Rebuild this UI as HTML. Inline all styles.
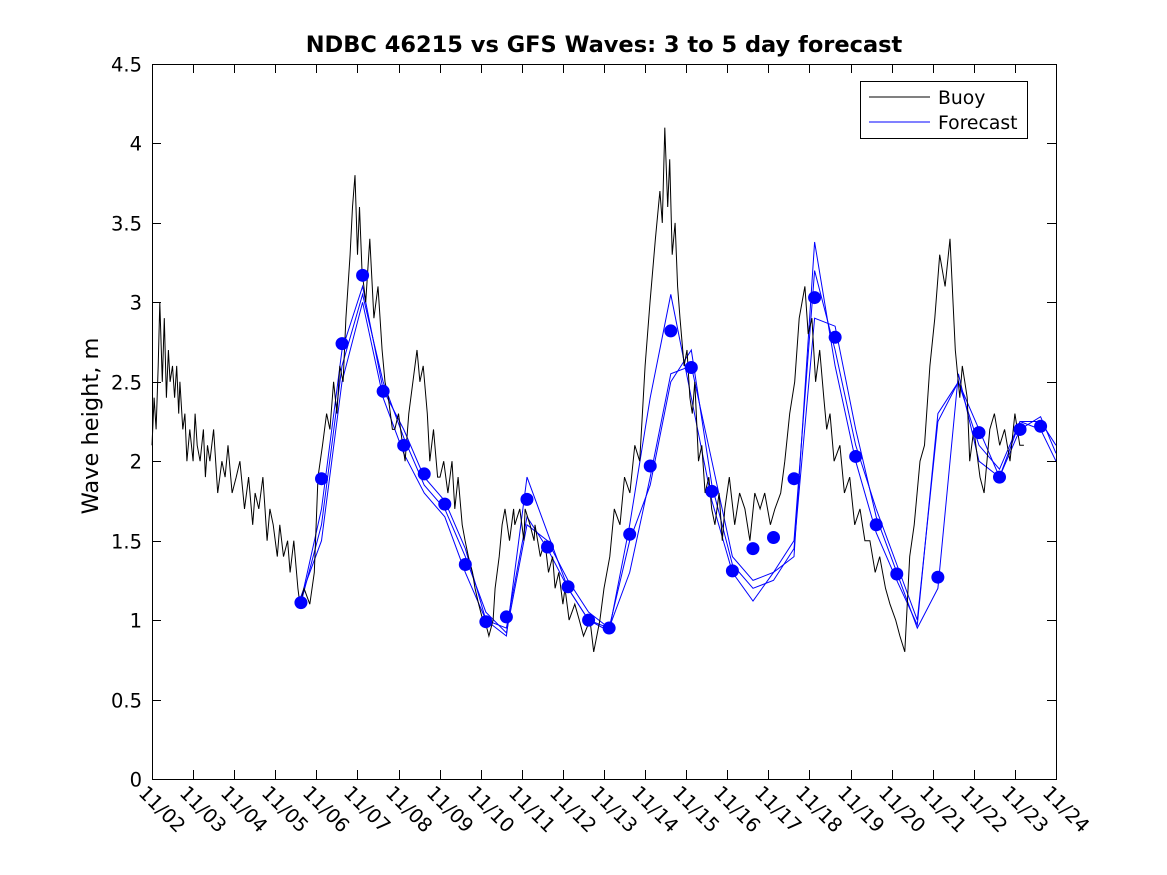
<!DOCTYPE html>
<html><head><meta charset="utf-8">
<style>
html,body{margin:0;padding:0;background:#fff;}
svg{display:block;font-family:"DejaVu Sans","Liberation Sans",sans-serif;}
</style></head>
<body>
<svg id="chart" width="1167" height="875" viewBox="0 0 1167 875">
<rect x="0" y="0" width="1167" height="875" fill="#fff"/>
<text x="604" y="52" text-anchor="middle" font-size="22.5" font-weight="bold">NDBC 46215 vs GFS Waves: 3 to 5 day forecast</text>
<text transform="translate(98,426) rotate(-90)" text-anchor="middle" font-size="22.5">Wave height, m</text>
<g id="plot"></g>
<g id="axes"></g>
<g>
<rect x="860.5" y="81.5" width="167" height="57" fill="#fff" stroke="#000" stroke-width="1"/>
<line x1="869" y1="97" x2="930" y2="97" stroke="#000"/>
<text x="938" y="104" font-size="18.8">Buoy</text>
<line x1="869" y1="122" x2="930" y2="122" stroke="#00f"/>
<text x="938" y="129" font-size="18.8">Forecast</text>
</g>
</svg>
<script>
const xTickLabels=["11/02","11/03","11/04","11/05","11/06","11/07","11/08","11/09","11/10","11/11","11/12","11/13","11/14","11/15","11/16","11/17","11/18","11/19","11/20","11/21","11/22","11/23","11/24"];
const yTicks=[0,0.5,1,1.5,2,2.5,3,3.5,4,4.5];
const buoyDays=[0,0.05,0.1,0.15,0.19,0.25,0.3,0.35,0.4,0.44,0.5,0.55,0.6,0.65,0.68,0.75,0.8,0.85,0.92,1.0,1.05,1.1,1.17,1.25,1.3,1.35,1.41,1.5,1.6,1.7,1.78,1.85,1.95,2.05,2.14,2.25,2.35,2.45,2.51,2.6,2.7,2.8,2.87,2.95,3.05,3.11,3.2,3.3,3.36,3.45,3.55,3.6,3.7,3.84,3.95,4.04,4.15,4.25,4.33,4.42,4.5,4.57,4.65,4.72,4.82,4.88,4.94,5.0,5.05,5.11,5.2,5.3,5.4,5.5,5.6,5.67,5.75,5.85,5.91,6.0,6.1,6.16,6.25,6.35,6.45,6.52,6.6,6.7,6.76,6.85,6.95,7.01,7.1,7.2,7.3,7.37,7.45,7.55,7.62,7.7,7.8,7.86,7.95,8.05,8.1,8.2,8.3,8.35,8.45,8.52,8.59,8.7,8.8,8.83,8.95,9.05,9.08,9.2,9.3,9.32,9.45,9.56,9.65,9.75,9.81,9.9,10.0,10.05,10.15,10.29,10.4,10.5,10.66,10.75,10.9,11.0,11.14,11.25,11.39,11.5,11.63,11.75,11.87,12.0,12.12,12.25,12.36,12.42,12.48,12.55,12.6,12.66,12.73,12.79,12.85,12.95,13.02,13.09,13.15,13.21,13.3,13.38,13.46,13.55,13.62,13.7,13.8,13.88,13.94,14.05,14.18,14.3,14.43,14.55,14.67,14.8,14.91,15.05,15.16,15.3,15.4,15.52,15.64,15.75,15.89,15.97,16.06,16.15,16.25,16.35,16.42,16.5,16.6,16.74,16.85,16.98,17.1,17.23,17.35,17.47,17.6,17.71,17.85,17.96,18.1,18.2,18.32,18.44,18.55,18.69,18.8,18.93,19.05,19.17,19.3,19.42,19.55,19.66,19.72,19.78,19.84,19.9,20.0,20.15,20.25,20.39,20.5,20.63,20.75,20.88,21.0,21.12,21.22,21.3,21.36,21.5,21.61,21.75,21.85,22.0];
const buoyVals=[2.1,2.4,2.2,2.6,3.0,2.5,2.9,2.4,2.7,2.5,2.6,2.4,2.6,2.3,2.5,2.2,2.3,2.0,2.2,2.0,2.3,2.1,2.0,2.2,1.9,2.1,2.0,2.2,1.8,2.0,1.9,2.1,1.8,1.9,2.0,1.7,1.9,1.6,1.8,1.7,1.9,1.5,1.7,1.6,1.4,1.6,1.4,1.5,1.3,1.5,1.2,1.1,1.2,1.1,1.3,1.9,2.1,2.3,2.2,2.5,2.3,2.6,2.5,2.9,3.3,3.6,3.8,3.3,3.6,3.2,3.0,3.4,2.9,3.1,2.7,2.5,2.4,2.2,2.2,2.3,2.1,2.0,2.3,2.5,2.7,2.5,2.6,2.3,2.0,2.2,1.9,1.9,2.0,1.8,2.0,1.7,1.9,1.6,1.5,1.4,1.3,1.2,1.1,1.0,1.0,0.9,1.0,1.2,1.4,1.6,1.7,1.5,1.7,1.6,1.7,1.5,1.7,1.6,1.5,1.6,1.4,1.5,1.3,1.4,1.2,1.3,1.1,1.2,1.0,1.1,1.0,0.9,1.0,0.8,1.0,1.2,1.4,1.7,1.6,1.9,1.8,2.1,2.0,2.6,3.0,3.4,3.7,3.5,4.1,3.6,3.9,3.3,3.5,3.1,2.9,2.6,2.7,2.4,2.3,2.5,2.0,2.1,1.8,1.9,1.7,1.6,1.8,1.5,1.7,1.9,1.6,1.8,1.7,1.5,1.8,1.7,1.8,1.6,1.7,1.8,2.0,2.3,2.5,2.9,3.1,2.8,2.9,2.5,2.7,2.4,2.2,2.3,2.0,2.1,1.8,1.9,1.6,1.7,1.5,1.5,1.3,1.4,1.2,1.1,1.0,0.9,0.8,1.4,1.6,2.0,2.1,2.6,2.9,3.3,3.1,3.4,2.7,2.4,2.6,2.5,2.4,2.0,2.2,1.9,1.8,2.2,2.3,2.1,2.2,2.0,2.3,2.1,2.1];
const fcDays=[3.625,4.125,4.625,5.125,5.625,6.125,6.625,7.125,7.625,8.125,8.625,9.125,9.625,10.125,10.625,11.125,11.625,12.125,12.625,13.125,13.625,14.125,14.625,15.125,15.625,16.125,16.625,17.125,17.625,18.125,18.625,19.125,19.625,20.125,20.625,21.125,21.625,22.0];
const fcDots=[1.11,1.89,2.74,3.17,2.44,2.10,1.92,1.73,1.35,0.99,1.02,1.76,1.46,1.21,1.00,0.95,1.54,1.97,2.82,2.59,1.81,1.31,1.45,1.52,1.89,3.03,2.78,2.03,1.60,1.29,null,1.27,null,2.18,1.90,2.20,2.22,null];
const fcRunA=[1.11,1.60,2.60,3.05,2.50,2.15,1.85,1.70,1.40,1.05,0.92,1.60,1.50,1.25,1.05,0.95,1.30,1.90,2.55,2.60,2.00,1.40,1.25,1.30,1.50,3.20,2.70,2.10,1.70,1.35,1.00,2.25,2.50,2.20,1.90,2.25,2.25,2.10];
const fcRunB=[1.15,1.50,2.50,3.00,2.40,2.05,1.80,1.65,1.30,1.00,0.90,1.90,1.55,1.20,1.00,0.93,1.60,2.40,3.05,2.40,1.75,1.30,1.12,1.30,1.40,3.38,2.60,2.00,1.55,1.25,0.97,2.30,2.50,2.10,1.95,2.25,2.20,2.00];
const fcRunC=[1.12,1.70,2.70,3.10,2.45,2.20,1.90,1.75,1.45,1.00,0.95,1.65,1.45,1.20,1.00,0.95,1.50,1.85,2.50,2.70,1.85,1.35,1.20,1.25,1.45,2.90,2.85,2.20,1.65,1.30,0.95,1.20,2.55,2.00,1.90,2.20,2.28,2.05];

const X0=152,X1=1056,Y0=779,Y1=64;
const xs=d=>X0+(X1-X0)*d/22;
const ys=v=>Y0-(Y0-Y1)*v/4.5;
const NS="http://www.w3.org/2000/svg";
const plot=document.getElementById('plot'),axes=document.getElementById('axes');
function mk(tag,attrs,parent){const e=document.createElementNS(NS,tag);for(const k in attrs)e.setAttribute(k,attrs[k]);parent.appendChild(e);return e;}

mk('rect',{x:X0+0.5,y:Y1+0.5,width:X1-X0,height:Y0-Y1,fill:'#fff',stroke:'none'},plot);

[fcRunA,fcRunB,fcRunC].forEach((run,ri)=>{
  let pts=[];
  run.forEach((v,i)=>{if(v!==null)pts.push(xs(fcDays[i]).toFixed(1)+','+ys(v).toFixed(1));});
  const p=mk('polyline',{points:pts.join(' '),fill:'none',stroke:'#00f','stroke-width':1},plot);
  
  
});
{
  let pts=buoyDays.map((d,i)=>xs(d).toFixed(1)+','+ys(buoyVals[i]).toFixed(1));
  const p=mk('polyline',{points:pts.join(' '),fill:'none',stroke:'#000','stroke-width':1},plot);
  
  
}
fcDots.forEach((v,i)=>{
  if(v===null)return;
  const c=mk('circle',{cx:xs(fcDays[i]),cy:ys(v),r:6.5,fill:'#00f'},plot);
  
  
});

mk('rect',{x:X0+0.5,y:Y1+0.5,width:X1-X0,height:Y0-Y1,fill:'none',stroke:'#000','stroke-width':1},axes);
xTickLabels.forEach((lab,i)=>{
  const x=Math.round(xs(i))+0.5;
  mk('line',{x1:x,y1:Y0,x2:x,y2:Y0-9,stroke:'#000'},axes);
  mk('line',{x1:x,y1:Y1,x2:x,y2:Y1+9,stroke:'#000'},axes);
  const t=mk('text',{x:0,y:0,'font-size':19.5,transform:`translate(${x-15},${Y0+15}) rotate(45)`},axes);
  t.textContent=lab;
  
  
});
yTicks.forEach(v=>{
  const y=Math.round(ys(v))+0.5;
  mk('line',{x1:X0,y1:y,x2:X0+9,y2:y,stroke:'#000'},axes);
  mk('line',{x1:X1,y1:y,x2:X1-9,y2:y,stroke:'#000'},axes);
  const t=mk('text',{x:X0-10,y:y+7,'font-size':19.5,'text-anchor':'end'},axes);
  t.textContent=String(v);
  
  
});
</script>
</body></html>
